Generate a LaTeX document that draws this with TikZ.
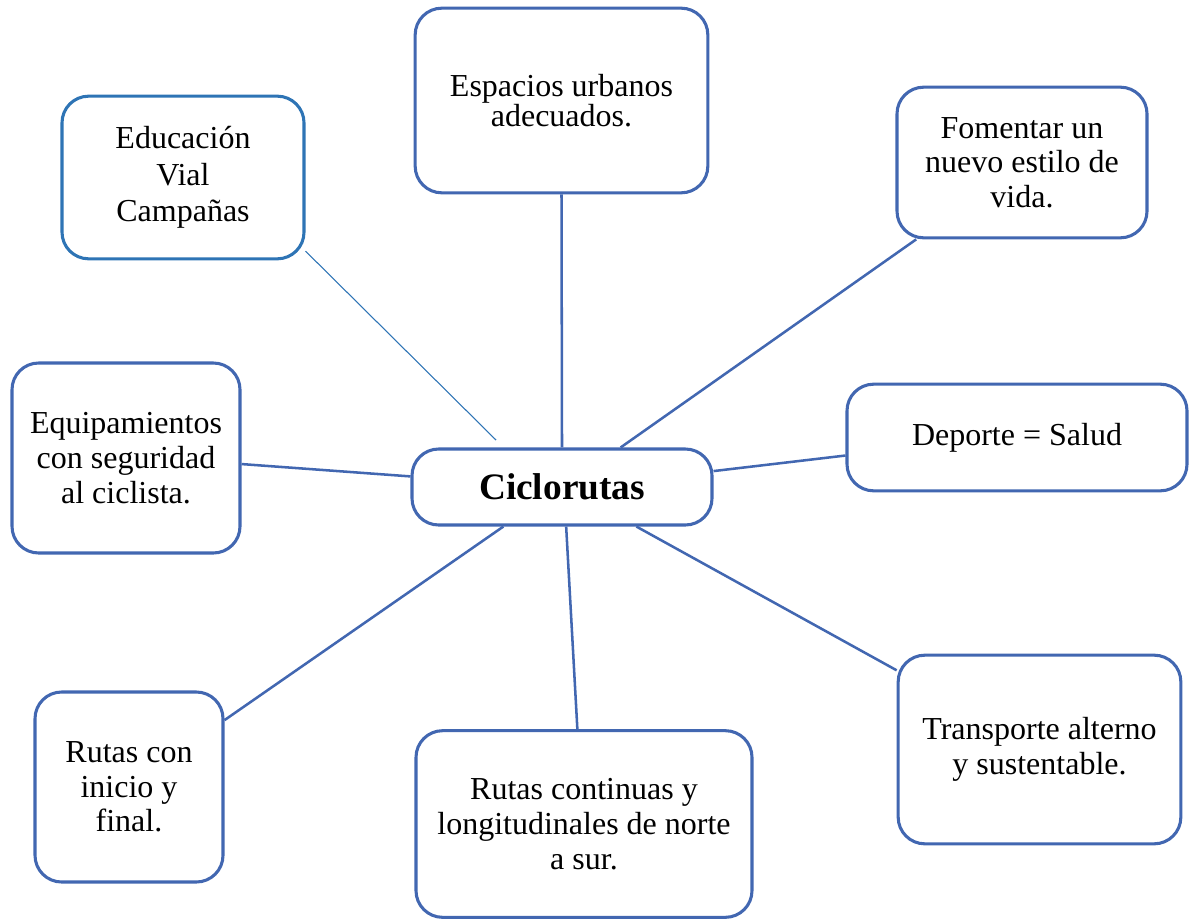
\documentclass[tikz,border=0pt]{standalone}
\usepackage{fontspec}
\setmainfont{Liberation Serif}
\usetikzlibrary{calc}

\definecolor{azulcaja}{HTML}{4267B1}
\definecolor{azuledu}{HTML}{2E74B5}

\tikzset{
  tema/.style={draw=azulcaja, line width=2.3pt, rounded corners=20pt, fill=white,
    align=center, inner sep=0pt, font=\fontsize{24}{26}\selectfont},
  enlace/.style={draw=azulcaja, line width=1.9pt}
}

\begin{document}
\begin{tikzpicture}[x=0.75pt, y=-0.75pt]
    % Marco (pixeles de la imagen)
    \useasboundingbox (0,0) rectangle (1194,920);

    % Nodo central
    \node[tema, minimum width=225pt, minimum height=57pt,
          font=\fontsize{28}{30}\selectfont\bfseries] (cic) at (562,487) {Ciclorutas};

    % Temas alrededor
    \node[tema, draw=azuledu, minimum width=181.5pt, minimum height=122pt,
          font=\fontsize{24}{27.5}\selectfont] (edu) at (183,177.5)
        {Educación\\Vial\\Campañas};
    \node[tema, minimum width=219.5pt, minimum height=138.5pt,
          font=\fontsize{24}{23}\selectfont] (esp) at (561.5,100.5)
        {Espacios urbanos\\adecuados.};
    \node[tema, minimum width=187.5pt, minimum height=113pt] (fom) at (1022,162.5)
        {Fomentar un\\nuevo estilo de\\vida.};
    \node[tema, minimum width=171pt, minimum height=142.5pt] (equ) at (126,458)
        {Equipamientos\\con seguridad\\al ciclista.};
    \node[tema, minimum width=255pt, minimum height=80pt] (dep) at (1017,437.5)
        {Deporte = Salud};
    \node[tema, minimum width=141pt, minimum height=142.5pt] (rcon) at (129,787)
        {Rutas con\\inicio y\\final.};
    \node[tema, minimum width=252pt, minimum height=140pt] (rcont) at (584,824)
        {Rutas continuas y\\longitudinales de norte\\a sur.};
    \node[tema, minimum width=212pt, minimum height=141.5pt] (tra) at (1039.5,749.5)
        {Transporte alterno\\y sustentable.};

    % Enlaces
    \coordinate (finedu) at (496,440);
    \draw[draw=azuledu, line width=0.8pt] (edu.-31.3) -- (finedu);
    \draw[enlace] (esp.south) -- (cic.north);
    \draw[enlace] (fom.216) -- (cic.34);
    \draw[enlace] (dep.186) -- (cic.6.5);
    \draw[enlace] (equ.-3.5) -- (cic.176.6);
    \draw[enlace] (rcon.35.5) -- (cic.214.6);
    \draw[enlace] (rcont.94.3) -- (cic.-84);
    \draw[enlace] (tra.151.3) -- (cic.-28.5);

\end{tikzpicture}
\end{document}
